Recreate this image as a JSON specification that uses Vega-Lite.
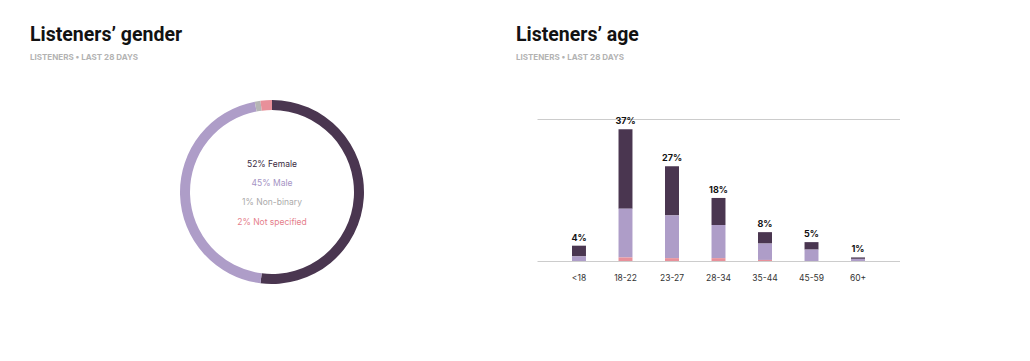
{
  "$schema": "https://vega.github.io/schema/vega-lite/v6.json",
  "background": "white",
  "padding": {"left": 30, "top": 25, "right": 0, "bottom": 0},
  "spacing": 2,
  "config": {
    "view": {"stroke": null},
    "font": "Inter",
    "title": {
      "anchor": "start",
      "frame": "group",
      "font": "Roboto",
      "fontSize": 19.5,
      "fontWeight": "bold",
      "color": "#121212",
      "subtitleFont": "Inter",
      "subtitleFontSize": 8,
      "subtitleColor": "#b3b3b3",
      "subtitleFontWeight": "bold",
      "subtitlePadding": 8,
      "offset": 37.5
    }
  },
  "hconcat": [
    {
      "title": {"text": "Listeners’ gender", "subtitle": "LISTENERS • LAST 28 DAYS"},
      "width": 484,
      "height": 184,
      "data": {
        "values": [
          {"gender": "Female", "pct": 52, "order": 1, "label": "52% Female"},
          {"gender": "Male", "pct": 45, "order": 2, "label": "45% Male"},
          {"gender": "Non-binary", "pct": 1, "order": 3, "label": "1% Non-binary"},
          {"gender": "Not specified", "pct": 2, "order": 4, "label": "2% Not specified"}
        ]
      },
      "layer": [
        {
          "mark": {"type": "arc", "radius": 92, "innerRadius": 82},
          "encoding": {
            "theta": {"field": "pct", "type": "quantitative", "stack": true},
            "order": {"field": "order", "type": "quantitative"},
            "color": {
              "field": "gender",
              "type": "nominal",
              "scale": {"domain": ["Female", "Male", "Non-binary", "Not specified"], "range": ["#4a3650", "#ae9dc8", "#b5b5b5", "#e8909a"]},
              "legend": null
            }
          }
        },
        {
          "mark": {"type": "text", "fontSize": 8.5, "align": "center", "baseline": "middle"},
          "encoding": {
            "y": {"field": "order", "type": "ordinal", "scale": {"range": [63.5, 121.5], "padding": 0}, "axis": null},
            "text": {"field": "label"},
            "color": {
              "field": "gender",
              "type": "nominal",
              "scale": {"domain": ["Female", "Male", "Non-binary", "Not specified"], "range": ["#3a2a42", "#a593c4", "#aaaaaa", "#e5808c"]},
              "legend": null
            }
          }
        }
      ],
      "resolve": {"scale": {"color": "independent"}}
    },
    {
      "title": {"text": "Listeners’ age", "subtitle": "LISTENERS • LAST 28 DAYS", "dx": -21},
      "width": 363,
      "height": 161,
      "data": {
        "values": [
          {"age": "<18", "gender": "Female", "value": 0.030},
          {"age": "<18", "gender": "Male", "value": 0.013},
          {"age": "<18", "gender": "Not specified", "value": 0.000},
          {"age": "18-22", "gender": "Female", "value": 0.223},
          {"age": "18-22", "gender": "Male", "value": 0.137},
          {"age": "18-22", "gender": "Not specified", "value": 0.010},
          {"age": "23-27", "gender": "Female", "value": 0.138},
          {"age": "23-27", "gender": "Male", "value": 0.120},
          {"age": "23-27", "gender": "Not specified", "value": 0.008},
          {"age": "28-34", "gender": "Female", "value": 0.076},
          {"age": "28-34", "gender": "Male", "value": 0.093},
          {"age": "28-34", "gender": "Not specified", "value": 0.008},
          {"age": "35-44", "gender": "Female", "value": 0.032},
          {"age": "35-44", "gender": "Male", "value": 0.046},
          {"age": "35-44", "gender": "Not specified", "value": 0.003},
          {"age": "45-59", "gender": "Female", "value": 0.021},
          {"age": "45-59", "gender": "Male", "value": 0.032},
          {"age": "45-59", "gender": "Not specified", "value": 0.000},
          {"age": "60+", "gender": "Female", "value": 0.004},
          {"age": "60+", "gender": "Male", "value": 0.006},
          {"age": "60+", "gender": "Not specified", "value": 0.000}
        ]
      },
      "encoding": {
        "x": {
          "field": "age",
          "type": "nominal",
          "sort": ["<18", "18-22", "23-27", "28-34", "35-44", "45-59", "60+"],
          "scale": {"paddingInner": 0.7, "paddingOuter": 0.753},
          "axis": {"title": null, "labelAngle": 0, "domain": false, "ticks": false, "labelPadding": 12, "labelFontSize": 8.5, "labelColor": "#333333"}
        }
      },
      "layer": [
        {
          "mark": {"type": "bar"},
          "encoding": {
            "y": {
              "field": "value",
              "type": "quantitative",
              "aggregate": "sum",
              "stack": true,
              "scale": {"domain": [0, 0.452], "nice": false},
              "axis": {"title": null, "labels": false, "ticks": false, "domain": false, "grid": true, "values": [0, 0.4], "gridColor": "#cccccc"}
            },
            "order": {"field": "gender", "sort": "descending"},
            "color": {
              "field": "gender",
              "type": "nominal",
              "scale": {"domain": ["Female", "Male", "Non-binary", "Not specified"], "range": ["#4a3650", "#ae9dc8", "#b5b5b5", "#e8909a"]},
              "legend": null
            }
          }
        },
        {
          "transform": [{"aggregate": [{"op": "sum", "field": "value", "as": "total"}], "groupby": ["age"]}],
          "mark": {"type": "text", "fontSize": 9, "fontWeight": "bold", "baseline": "bottom", "dy": -3, "color": "#121212"},
          "encoding": {
            "y": {"field": "total", "type": "quantitative"},
            "text": {"field": "total", "type": "quantitative", "format": ".0%"}
          }
        }
      ]
    }
  ]
}
